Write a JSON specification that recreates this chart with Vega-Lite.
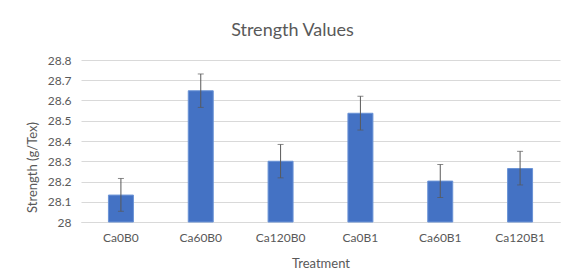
{
  "$schema": "https://vega.github.io/schema/vega-lite/v6.json",
  "autosize": "none",
  "width": 479,
  "height": 162,
  "padding": {"left": 81, "top": 60, "right": 24, "bottom": 56},
  "background": "white",
  "view": {"stroke": null},
  "title": {
    "text": "Strength Values",
    "font": "Lato",
    "fontSize": 18,
    "fontWeight": "normal",
    "color": "#595959",
    "anchor": "middle",
    "dx": -28,
    "offset": 14
  },
  "data": {
    "values": [
      {"Treatment": "Ca0B0", "Strength": 28.133, "lo": 28.053, "hi": 28.215},
      {"Treatment": "Ca60B0", "Strength": 28.648, "lo": 28.566, "hi": 28.731},
      {"Treatment": "Ca120B0", "Strength": 28.300, "lo": 28.218, "hi": 28.383},
      {"Treatment": "Ca0B1", "Strength": 28.537, "lo": 28.454, "hi": 28.621},
      {"Treatment": "Ca60B1", "Strength": 28.202, "lo": 28.121, "hi": 28.284},
      {"Treatment": "Ca120B1", "Strength": 28.264, "lo": 28.183, "hi": 28.349}
    ]
  },
  "encoding": {
    "x": {
      "field": "Treatment",
      "type": "nominal",
      "sort": null,
      "scale": {"paddingInner": 0.687, "paddingOuter": 0.3435},
      "axis": {
        "title": "Treatment",
        "labelAngle": 0,
        "labelFont": "Lato",
        "labelFontSize": 12,
        "labelColor": "#595959",
        "labelPadding": 10,
        "ticks": false,
        "domainColor": "#d9d9d9",
        "titleFont": "Lato",
        "titleFontSize": 13,
        "titleFontWeight": "normal",
        "titleColor": "#595959",
        "titlePadding": 14
      }
    }
  },
  "layer": [
    {
      "mark": {"type": "bar", "color": "#4472C4", "stroke": "#6a93d6", "strokeWidth": 1},
      "encoding": {
        "y": {
          "field": "Strength",
          "type": "quantitative",
          "scale": {"domain": [28, 28.8], "nice": false, "zero": false},
          "axis": {
            "title": "Strength (g/Tex)",
            "values": [28, 28.1, 28.2, 28.3, 28.4, 28.5, 28.6, 28.7, 28.8],
            "format": ".1~f",
            "labelFont": "Lato",
            "labelFontSize": 12,
            "labelColor": "#595959",
            "labelPadding": 10,
            "ticks": false,
            "domain": false,
            "gridColor": "#d9d9d9",
            "titleFont": "Lato",
            "titleFontSize": 13,
            "titleFontWeight": "normal",
            "titleColor": "#595959",
            "titlePadding": 8,
            "titleY": 107
          }
        },
        "y2": {"datum": 28}
      }
    },
    {
      "mark": {"type": "errorbar", "ticks": {"size": 6, "color": "#595959"}, "rule": {"color": "#595959", "strokeWidth": 1}},
      "encoding": {
        "y": {
          "field": "lo",
          "type": "quantitative",
          "axis": {
            "title": "Strength (g/Tex)",
            "values": [28, 28.1, 28.2, 28.3, 28.4, 28.5, 28.6, 28.7, 28.8],
            "format": ".1~f",
            "labelFont": "Lato",
            "labelFontSize": 12,
            "labelColor": "#595959",
            "labelPadding": 10,
            "ticks": false,
            "domain": false,
            "gridColor": "#d9d9d9",
            "titleFont": "Lato",
            "titleFontSize": 13,
            "titleFontWeight": "normal",
            "titleColor": "#595959",
            "titlePadding": 8,
            "titleY": 107
          }
        },
        "y2": {"field": "hi"}
      }
    }
  ]
}
